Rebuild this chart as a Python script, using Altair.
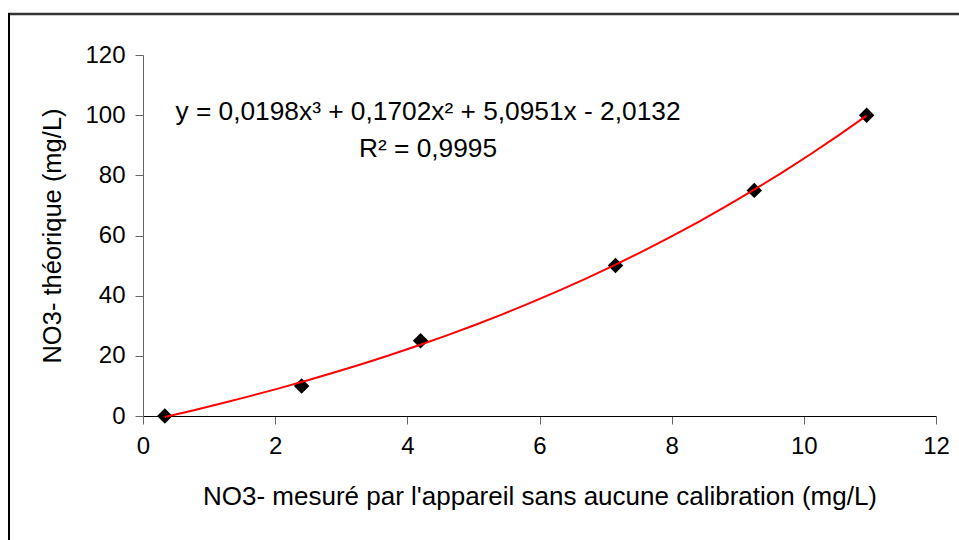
import altair as alt
import pandas as pd

# Measured NO3- (device, no calibration) vs theoretical NO3- (mg/L)
measured = [0.33, 2.40, 4.20, 7.15, 9.25, 10.95]
theoretical = [0, 10, 25, 50, 75, 100]

x_ticks = [0, 2, 4, 6, 8, 10, 12]
y_ticks = [0, 20, 40, 60, 80, 100, 120]

equation_lines = ["y = 0,0198x³ + 0,1702x² + 5,0951x - 2,0132", "R² = 0,9995"]

x_title = "NO3- mesuré par l'appareil sans aucune calibration (mg/L)"
y_title = "NO3- théorique (mg/L)"

df = pd.DataFrame({"x": measured, "y": theoretical})

FONT = "Liberation Sans"
W, H = 793, 361

xs = alt.Scale(domain=[0, 12], nice=False, zero=False)
ys = alt.Scale(domain=[0, 120], nice=False)

x_axis = alt.Axis(values=x_ticks, format="d", title=x_title, grid=False, domainColor="#000000",
                  tickColor="#666666", tickSize=8, labelFontSize=24, labelPadding=10,
                  titleFontSize=26, titlePadding=25, labelFont=FONT, titleFont=FONT,
                  titleFontWeight="normal", labelColor="#000000", titleColor="#000000",
                  labelFlush=False)
y_axis = alt.Axis(values=y_ticks, format="d", title=y_title, grid=False, domainColor="#666666",
                  tickColor="#666666", tickSize=8, labelFontSize=24, labelPadding=10,
                  titleFontSize=25.5, titlePadding=19, labelFont=FONT, titleFont=FONT,
                  titleFontWeight="normal", labelColor="#000000", titleColor="#000000",
                  labelFlush=False)

base = alt.Chart(df)

points = base.mark_point(shape="diamond", filled=True, color="#000000", size=240, opacity=1).encode(
    x=alt.X("x:Q", scale=xs, axis=x_axis),
    y=alt.Y("y:Q", scale=ys, axis=y_axis),
)

trend = base.transform_regression("x", "y", method="poly", order=3).mark_line(
    color="#FF0000", strokeWidth=2
).encode(
    x=alt.X("x:Q", scale=xs),
    y=alt.Y("y:Q", scale=ys),
)

eq1 = alt.Chart(pd.DataFrame({"t": [equation_lines[0]]})).mark_text(
    font=FONT, fontSize=26.3, color="#000000", align="center", baseline="middle"
).encode(text="t:N", x=alt.value(285), y=alt.value(57))

eq2 = alt.Chart(pd.DataFrame({"t": [equation_lines[1]]})).mark_text(
    font=FONT, fontSize=26.3, color="#000000", align="center", baseline="middle"
).encode(text="t:N", x=alt.value(285), y=alt.value(94))

# outer frame of the embedded chart (top and left edges visible)
frame_top = alt.Chart(pd.DataFrame({"d": [0]})).mark_rule(color="#333333", strokeWidth=2.5).encode(
    x=alt.value(-135), x2=alt.value(830), y=alt.value(-41)
)
frame_left = alt.Chart(pd.DataFrame({"d": [0]})).mark_rule(color="#000000", strokeWidth=2).encode(
    x=alt.value(-134), y=alt.value(-42), y2=alt.value(500)
)

chart = alt.layer(frame_top, frame_left, points, trend, eq1, eq2).properties(
    width=W, height=H,
    padding={"left": 143, "top": 55, "right": 959 - 143 - W, "bottom": 540 - 55 - H},
    autosize=alt.AutoSizeParams(type="none"),
    background="#FFFFFF",
).configure_view(stroke=None)

chart.save("out.html", embed_options={"renderer": "svg", "actions": False})
